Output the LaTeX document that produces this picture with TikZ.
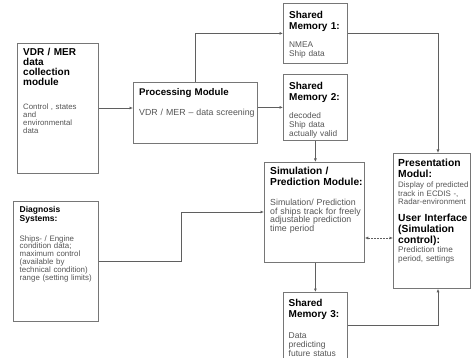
\documentclass[tikz,border=0pt]{standalone}
\usepackage{fontspec}
\setmainfont{Liberation Sans}
\usetikzlibrary{arrows.meta}
\definecolor{boxcol}{RGB}{118,118,118}
\definecolor{linecol}{RGB}{95,95,95}
\definecolor{bodycol}{RGB}{85,85,85}
\tikzset{
  box/.style={draw=boxcol, line width=0.8pt, inner sep=0pt, fill=white, anchor=north west},
  conn/.style={draw=linecol, line width=0.8pt, -{Latex[length=3.5pt,width=3pt]}},
  dconn/.style={draw=linecol, line width=0.7pt, dash pattern=on 1.8pt off 1.2pt, {Latex[length=3.5pt,width=3pt]}-{Latex[length=3.5pt,width=3pt]}},
  ttl/.style={anchor=base west, inner sep=0pt, text width=140pt, align=left, font=\bfseries, text=black},
  bdy/.style={anchor=base west, inner sep=0pt, text width=140pt, align=left, text=bodycol},
}
\newcommand{\fs}[2]{\fontsize{#1}{#2}\selectfont}
\begin{document}
\begin{tikzpicture}[x=1pt,y=1pt]
\useasboundingbox (0,0) rectangle (471,-358);
% boxes
\node[box, minimum width=81pt, minimum height=130pt] (vdr) at (17,-43) {};
\node[box, minimum width=85pt, minimum height=120pt] (diag) at (13,-201) {};
\node[box, minimum width=124pt, minimum height=61pt] (proc) at (133,-82) {};
\node[box, minimum width=64pt, minimum height=60pt] (sm1) at (283,-3) {};
\node[box, minimum width=64pt, minimum height=66pt] (sm2) at (283,-74) {};
\node[box, minimum width=100pt, minimum height=100pt] (sim) at (264,-162) {};
\node[box, minimum width=64pt, minimum height=80pt] (sm3) at (283,-292) {};
\node[box, minimum width=77pt, minimum height=135pt] (pres) at (393,-153) {};
% texts
\node[ttl, font=\bfseries\fs{10}{10}] (vdrT) at (23,-55.5) {VDR / MER\\data\\collection\\module};
\node[bdy, font=\fs{7.8}{8}] (vdrB) at (23,-110) {Control , states\\and\\environmental\\data};
\node[ttl, font=\bfseries\fs{9.7}{11}] (procT) at (139,-95.5) {Processing Module};
\node[bdy, font=\fs{8.8}{9}] (procB) at (139,-116) {VDR / MER -- data screening};
\node[ttl, font=\bfseries\fs{10}{11}] (sm1T) at (289,-18.5) {Shared\\Memory 1:};
\node[bdy, font=\fs{8.3}{9}] (sm1B) at (289,-48) {NMEA\\Ship data};
\node[ttl, font=\bfseries\fs{10}{11}] (sm2T) at (289,-89.5) {Shared\\Memory 2:};
\node[bdy, font=\fs{8.3}{9}] (sm2B) at (289,-119) {decoded\\Ship data\\actually valid};
\node[ttl, font=\bfseries\fs{10.2}{11}] (simT) at (270,-174.5) {Simulation /\\Prediction Module:};
\node[bdy, font=\fs{8.8}{8.5}] (simB) at (270,-206) {Simulation/ Prediction\\of ships track for freely\\adjustable prediction\\time period};
\node[ttl, font=\bfseries\fs{8.5}{9}] (diagT) at (19.5,-213) {Diagnosis\\Systems:};
\node[bdy, font=\fs{7.9}{7.8}] (diagB) at (19.5,-241) {Ships- / Engine\\condition data;\\maximum control\\(available by\\technical condition)\\range (setting limits)};
\node[ttl, font=\bfseries\fs{10}{11}] (sm3T) at (288.5,-306.5) {Shared\\Memory 3:};
\node[bdy, font=\fs{8.5}{9}] (sm3B) at (288.5,-338) {Data\\predicting\\future status};
\node[ttl, font=\bfseries\fs{10.3}{11}] (presT) at (398,-166.5) {Presentation\\Modul:};
\node[bdy, font=\fs{7.9}{8.5}] (presB) at (398,-188) {Display of predicted\\track in ECDIS -,\\Radar-environment};
\node[ttl, font=\bfseries\fs{10.3}{10.5}] (presT2) at (398,-222) {User Interface\\(Simulation\\control):};
\node[bdy, font=\fs{8.2}{9}] (presB2) at (398,-252) {Prediction time\\period, settings};
% connectors
\draw[conn] (vdr.east |- 0,-108) -- (proc.west |- 0,-108);
\draw[conn] (proc.north -| 195,0) |- (sm1.west);
\draw[conn] (proc.east |- sm2.west) -- (sm2.west);
\draw[conn] (sm1.east) -| (pres.north -| 438,0);
\draw[conn] (sm2.south) -- (sm2.south |- sim.north);
\draw[conn] (diag.east |- 0,-261) -| (181,-212) -- (sim.west |- 0,-212);
\draw[dconn] (sim.east |- 0,-238) -- (pres.west |- 0,-238);
\draw[conn] (sm3.north |- sim.south) -- (sm3.north);
\draw[conn] (sm3.east |- 0,-325) -| (pres.south -| 438,0);
\end{tikzpicture}
\end{document}
